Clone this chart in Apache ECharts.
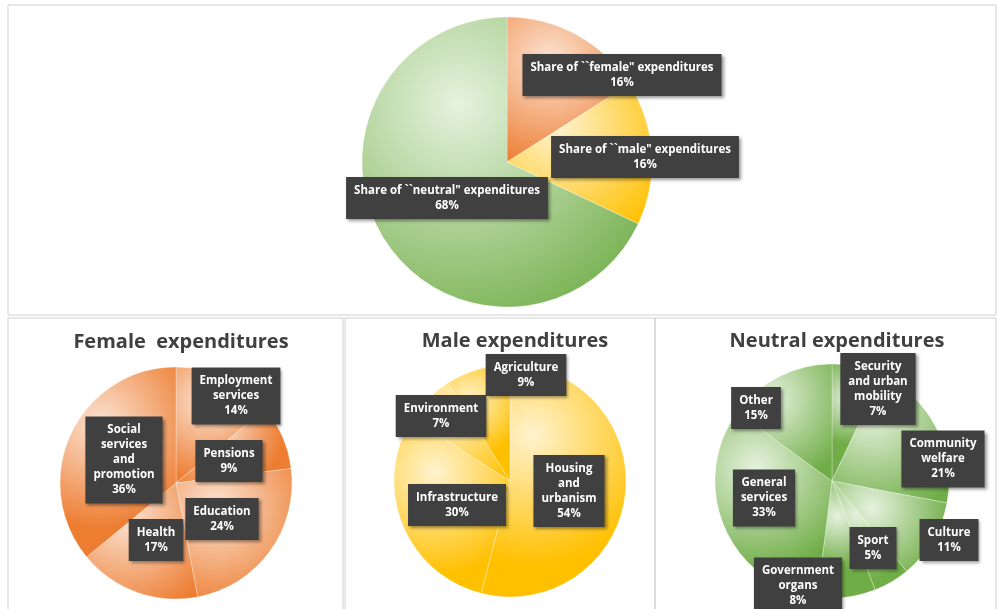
<!DOCTYPE html>
<html>
<head>
<meta charset="utf-8">
<script src="https://cdn.jsdelivr.net/npm/echarts@6/dist/echarts.min.js"></script>
<style>
  html, body { margin: 0; padding: 0; background: #fff; }
  #main { width: 997px; height: 609px; }
</style>
</head>
<body>
<div id="main"></div>
<script>
// shares of total, clockwise from 12 o'clock
const shareNames = ['Share of ``female" expenditures', 'Share of ``male" expenditures', 'Share of ``neutral" expenditures'];
const shareValues = [16, 16, 68];

const femaleNames = ['Employment\nservices', 'Pensions', 'Education', 'Health', 'Social\nservices\nand\npromotion'];
const femaleValues = [14, 9, 24, 17, 36];

const maleNames = ['Housing\nand\nurbanism', 'Infrastructure', 'Environment', 'Agriculture'];
const maleValues = [54, 30, 7, 9];

const neutralNames = ['Security\nand urban\nmobility', 'Community\nwelfare', 'Culture', 'Sport', 'Government\norgans', 'General\nservices', 'Other'];
const neutralValues = [7, 21, 11, 5, 8, 33, 15];

// label box centres (px)
const shareLabelPos = [[622, 75], [645, 157], [447, 198]];
const femaleLabelPos = [[236, 396], [229, 461], [222, 519], [156, 540], [124, 460]];
const maleLabelPos = [[569, 491], [457, 505], [441, 416], [526, 375]];
const neutralLabelPos = [[878, 389], [943, 459], [949, 540], [873, 548], [798, 586], [764, 498], [756, 408]];

const ORANGE = ['#fbe3d3', '#ed7d31'];
const YELLOW = ['#fff3cf', '#ffc000'];
const GREEN = ['#e6f2de', '#70ad47'];

const grad = (c) => ({
  type: 'radial', x: 0.35, y: 0.3, r: 0.9,
  colorStops: [{ offset: 0, color: c[0] }, { offset: 1, color: c[1] }]
});

const toData = (names, values, colors) => names.map((n, i) => ({
  name: n, value: values[i],
  itemStyle: { color: grad(Array.isArray(colors[0]) ? colors[i] : colors) }
}));

const labelStyle = {
  show: true,
  position: 'outside',
  overflow: 'none',
  formatter: '{b}\n{c}%',
  color: '#fff',
  fontWeight: 'bold',
  fontSize: 11.5,
  lineHeight: 15,
  fontFamily: 'Open Sans, sans-serif',
  backgroundColor: '#404040',
  padding: [6, 8],
  align: 'center',
  shadowColor: 'rgba(0,0,0,0.4)',
  shadowBlur: 3,
  shadowOffsetX: 2,
  shadowOffsetY: 2
};

const makePie = (data, center, radius, pos) => ({
  type: 'pie',
  center: center,
  radius: radius,
  startAngle: 90,
  clockwise: true,
  silent: true,
  avoidLabelOverlap: false,
  data: data,
  label: labelStyle,
  labelLine: { show: false },
  itemStyle: { borderColor: 'rgba(255,255,255,0.6)', borderWidth: 0.5 },
  labelLayout: (p) => ({ x: pos[p.dataIndex][0], y: pos[p.dataIndex][1], align: 'center', verticalAlign: 'middle', hideOverlap: false })
});

const titleStyle = { fontSize: 20, fontWeight: 'bold', color: '#404040', fontFamily: 'Open Sans, sans-serif' };

const chart = echarts.init(document.getElementById('main'));
chart.setOption({
  animation: false,
  graphic: [
    { type: 'rect', shape: { x: 8, y: 5, width: 988, height: 310 }, style: { fill: 'none', stroke: '#d0d0d0' } },
    { type: 'rect', shape: { x: 8, y: 318, width: 335, height: 300 }, style: { fill: 'none', stroke: '#d0d0d0' } },
    { type: 'rect', shape: { x: 345, y: 318, width: 310, height: 300 }, style: { fill: 'none', stroke: '#d0d0d0' } },
    { type: 'rect', shape: { x: 655, y: 318, width: 341, height: 300 }, style: { fill: 'none', stroke: '#d0d0d0' } }
  ],
  title: [
    { text: 'Female  expenditures', left: 176, top: 327, textAlign: 'center', textStyle: titleStyle },
    { text: 'Male expenditures', left: 510, top: 326, textAlign: 'center', textStyle: titleStyle },
    { text: 'Neutral expenditures', left: 832, top: 326, textAlign: 'center', textStyle: titleStyle }
  ],
  series: [
    makePie(toData(shareNames, shareValues, [ORANGE, YELLOW, GREEN]), [507, 162], 145, shareLabelPos),
    makePie(toData(femaleNames, femaleValues, ORANGE), [176, 483], 116, femaleLabelPos),
    makePie(toData(maleNames, maleValues, YELLOW), [510, 481], 116, maleLabelPos),
    makePie(toData(neutralNames, neutralValues, GREEN), [832, 481], 117, neutralLabelPos)
  ]
});
</script>
</body>
</html>
